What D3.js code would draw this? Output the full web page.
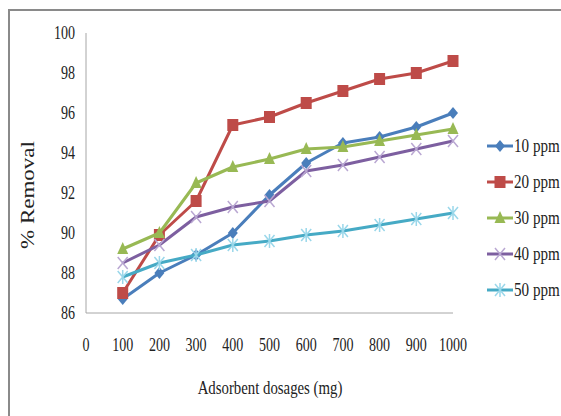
<!DOCTYPE html>
<html><head><meta charset="utf-8">
<script src="https://cdn.jsdelivr.net/npm/d3@7"></script>
<style>html,body{margin:0;padding:0;background:#fff;overflow:hidden}</style>
</head><body>
<svg id="chart" width="561" height="416"></svg>
<script>
const dosages = [100,200,300,400,500,600,700,800,900,1000];
const seriesNames = ["10 ppm","20 ppm","30 ppm","40 ppm","50 ppm"];
const s10 = [86.7,88.0,88.9,90.0,91.9,93.5,94.5,94.8,95.3,96.0];
const s20 = [87.0,89.9,91.6,95.4,95.8,96.5,97.1,97.7,98.0,98.6];
const s30 = [89.2,90.0,92.5,93.3,93.7,94.2,94.3,94.6,94.9,95.2];
const s40 = [88.5,89.4,90.8,91.3,91.6,93.1,93.4,93.8,94.2,94.6];
const s50 = [87.8,88.5,88.9,89.4,89.6,89.9,90.1,90.4,90.7,91.0];
const xTicks = [0,100,200,300,400,500,600,700,800,900,1000];
const yTicks = [86,88,90,92,94,96,98,100];

const lineColors = ["#4a7ebb","#be4b48","#98b954","#7d5fa0","#46aac5"];
const markerColors = ["#4a7ebb","#be4b48","#98b954","#b9a7d2","#9ad7ea"];
const markerTypes = ["diamond","square","triangle","x","star"];
const allSeries = [s10,s20,s30,s40,s50];

const svg = d3.select("#chart");
const FONT = "'Liberation Serif','Times New Roman',serif";
const SX = 0.78;

// outer frame
svg.append("rect").attr("x",9).attr("y",10).attr("width",570).attr("height",430)
  .attr("fill","none").attr("stroke","#8a8a8a").attr("stroke-width",2);

const x = d3.scaleLinear().domain([0,1000]).range([86,453]);
const y = d3.scaleLinear().domain([86,100]).range([313,33]);

// axes lines
svg.append("line").attr("x1",x(0)).attr("x2",x(0)).attr("y1",y(100)).attr("y2",y(86))
  .attr("stroke","#a6a6a6").attr("stroke-width",1);
svg.append("line").attr("x1",x(0)).attr("x2",x(1000)).attr("y1",y(86)).attr("y2",y(86))
  .attr("stroke","#a6a6a6").attr("stroke-width",1);

// y tick labels
yTicks.forEach(t=>{
  svg.append("g").attr("transform",`translate(75,${y(t)}) scale(${SX},1)`)
    .append("text").attr("text-anchor","end").attr("dy","0.35em")
    .attr("font-family",FONT).attr("font-size",18).attr("fill","#222").text(t);
});
// x tick labels
xTicks.forEach(t=>{
  svg.append("g").attr("transform",`translate(${x(t)},351) scale(${SX},1)`)
    .append("text").attr("text-anchor","middle")
    .attr("font-family",FONT).attr("font-size",18).attr("fill","#222").text(t);
});
// axis titles
svg.append("g").attr("transform",`translate(270,394) scale(${SX},1)`)
  .append("text").attr("text-anchor","middle")
  .attr("font-family",FONT).attr("font-size",19).attr("fill","#222").text("Adsorbent dosages (mg)");
svg.append("g").attr("transform",`translate(34,195) scale(${SX},1) rotate(-90)`)
  .append("text").attr("text-anchor","middle")
  .attr("font-family",FONT).attr("font-size",23).attr("fill","#222").text("% Removal");

function drawMarker(g, type, cx, cy, color){
  if(type==="diamond"){
    g.append("path").attr("d",`M${cx},${cy-6}L${cx+5},${cy}L${cx},${cy+6}L${cx-5},${cy}Z`).attr("fill",color);
  } else if(type==="square"){
    g.append("rect").attr("x",cx-5.5).attr("y",cy-6).attr("width",11).attr("height",12).attr("fill",color);
  } else if(type==="triangle"){
    g.append("path").attr("d",`M${cx},${cy-7}L${cx+5.5},${cy+5}L${cx-5.5},${cy+5}Z`).attr("fill",color);
  } else if(type==="x"){
    g.append("path").attr("d",`M${cx-5},${cy-6}L${cx+5},${cy+6}M${cx+5},${cy-6}L${cx-5},${cy+6}`)
      .attr("stroke",color).attr("stroke-width",1.5).attr("fill","none");
  } else if(type==="star"){
    g.append("path").attr("d",`M${cx-5},${cy-6}L${cx+5},${cy+6}M${cx+5},${cy-6}L${cx-5},${cy+6}M${cx},${cy-7}L${cx},${cy+7}`)
      .attr("stroke",color).attr("stroke-width",1.5).attr("fill","none");
  }
}

const line = d3.line().x((d,i)=>x(dosages[i])).y(d=>y(d));
allSeries.forEach((s,k)=>{
  const g = svg.append("g");
  g.append("path").datum(s).attr("d",line).attr("fill","none")
    .attr("stroke",lineColors[k]).attr("stroke-width",3).attr("stroke-linejoin","round");
  s.forEach((v,i)=>drawMarker(g, markerTypes[k], x(dosages[i]), y(v), markerColors[k]));
});

// legend
seriesNames.forEach((n,k)=>{
  const ly = 146 + k*36;
  const g = svg.append("g");
  g.append("line").attr("x1",487).attr("x2",513).attr("y1",ly).attr("y2",ly)
    .attr("stroke",lineColors[k]).attr("stroke-width",3);
  drawMarker(g, markerTypes[k], 500, ly, markerColors[k]);
  g.append("g").attr("transform",`translate(514,${ly}) scale(0.84,1)`)
    .append("text").attr("dy","0.35em").attr("font-family",FONT).attr("font-size",18)
    .attr("fill","#222").text(n);
});
</script>
</body></html>
